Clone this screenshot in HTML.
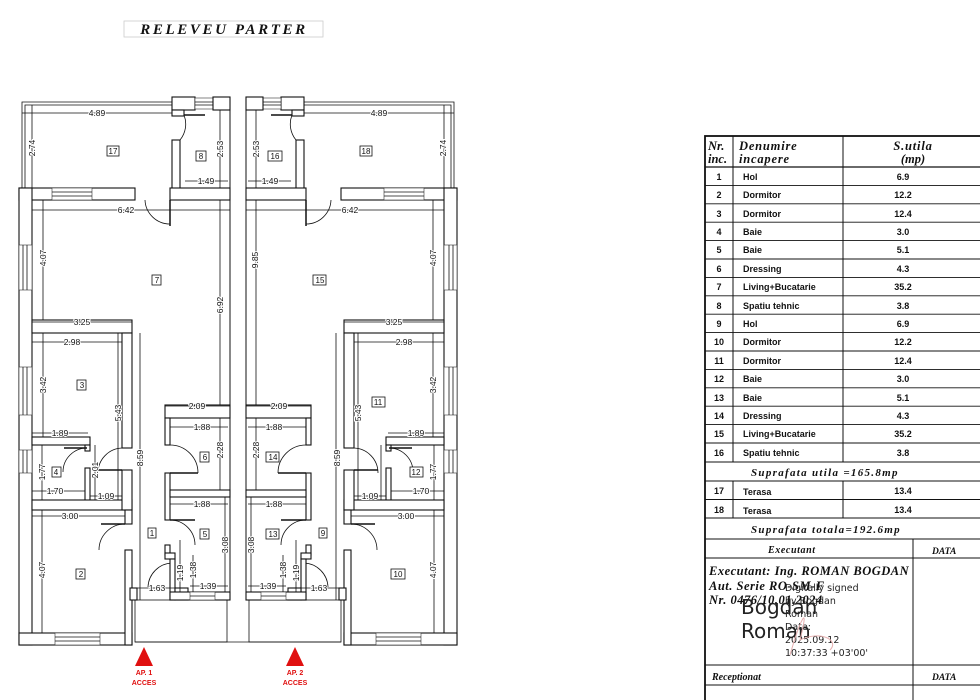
<!DOCTYPE html>
<html><head><meta charset="utf-8"><style>
html,body{margin:0;padding:0;background:#fff;width:980px;height:700px;overflow:hidden}
svg{display:block}
.d{font-family:"Liberation Sans",sans-serif;font-size:8.5px;fill:#111;text-anchor:middle;paint-order:stroke;stroke:#fff;stroke-width:2px}
.t{font-family:"Liberation Sans",sans-serif;font-size:9px;font-weight:bold;fill:#111}
.s{font-family:"Liberation Serif",serif;font-style:italic;font-weight:bold;fill:#111}
.w{fill:#fff;stroke:#111;stroke-width:1.1}
.l{stroke:#111;stroke-width:0.8;fill:none}
.win{fill:#fff;stroke:#333;stroke-width:0.6}
.b{fill:#fff;stroke:#111;stroke-width:0.8}
</style></head><body>
<svg width="980" height="700" viewBox="0 0 980 700" xmlns="http://www.w3.org/2000/svg">
<rect x="124" y="21" width="199" height="16" fill="#fff" stroke="#ccc" stroke-width="0.8"/>
<text x="224" y="34" class="s" font-size="15" text-anchor="middle" letter-spacing="2.6" font-weight="normal">RELEVEU  PARTER</text>

<defs>
<g id="half">
 <path class="l" d="M22,190 V102 H172 M25,190 V105 H172" />
 <rect class="w" x="172" y="97" width="23" height="13"/>
 <rect class="win" x="195" y="98" width="18" height="11"/><line class="l" x1="195" y1="102" x2="213" y2="102"/><line class="l" x1="195" y1="105" x2="213" y2="105"/>
 <rect class="w" x="213" y="97" width="17" height="13"/>
 <rect class="w" x="172" y="110" width="12" height="6"/>
 <rect class="w" x="172" y="140" width="8" height="50"/>
 <path class="l" d="M184,115 A25,25 0 0 1 180,140"/><line x1="184" y1="115" x2="205" y2="115" stroke="#111" stroke-width="1.5"/>
 <rect class="w" x="19" y="188" width="116" height="12"/>
 <rect class="win" x="52" y="188" width="40" height="12"/><line class="l" x1="52" y1="192" x2="92" y2="192"/><line class="l" x1="52" y1="196" x2="92" y2="196"/>
 <rect class="w" x="170" y="188" width="60" height="12"/>
 <path class="l" d="M145,200 A25,25 0 0 0 170,224"/><line x1="170" y1="200" x2="170" y2="226" stroke="#111" stroke-width="1.5"/>
 <rect class="w" x="19" y="188" width="13" height="457"/>
 <rect class="win" x="19" y="245" width="13" height="45"/><line class="l" x1="23" y1="245" x2="23" y2="290"/><line class="l" x1="27" y1="245" x2="27" y2="290"/>
 <rect class="win" x="19" y="367" width="13" height="48"/><line class="l" x1="23" y1="367" x2="23" y2="415"/><line class="l" x1="27" y1="367" x2="27" y2="415"/>
 <rect class="win" x="19" y="450" width="13" height="23"/><line class="l" x1="23" y1="450" x2="23" y2="473"/><line class="l" x1="27" y1="450" x2="27" y2="473"/>
 <rect class="w" x="19" y="633" width="113" height="12"/>
 <rect class="win" x="55" y="633" width="45" height="12"/><line class="l" x1="55" y1="637" x2="100" y2="637"/><line class="l" x1="55" y1="641" x2="100" y2="641"/>
 <rect class="w" x="32" y="320" width="100" height="13"/>
 <rect class="w" x="122" y="333" width="10" height="115"/>
 <rect class="w" x="32" y="437" width="58" height="8"/>
 <rect class="w" x="85" y="445" width="5" height="6"/>
 <rect class="w" x="85" y="468" width="5" height="34"/>
 <rect class="w" x="32" y="500" width="100" height="10"/>
 <rect class="w" x="122" y="470" width="10" height="40"/>
 <rect class="w" x="125" y="510" width="7" height="14"/>
 <rect class="w" x="125" y="550" width="7" height="95"/>
 <path class="l" d="M87,448 A24,24 0 0 0 63,472 M122,448 A25,25 0 0 0 98,473 M125,524 A26,26 0 0 0 99,550 M172,563 A25,25 0 0 0 148,587"/>
 <line x1="64" y1="448" x2="87" y2="448" stroke="#111" stroke-width="1.5"/>
 <line x1="98" y1="470" x2="122" y2="470" stroke="#111" stroke-width="1.5"/>
 <line x1="101" y1="524" x2="125" y2="524" stroke="#111" stroke-width="1.5"/>
 <rect class="w" x="130" y="588" width="7" height="12"/>
 <rect class="l" x="135" y="600" width="92" height="42"/>
 <rect class="w" x="165" y="405" width="65" height="13"/>
 <rect class="w" x="165" y="418" width="5" height="27"/>
 <rect class="w" x="165" y="473" width="5" height="47"/>
 <rect class="w" x="165" y="545" width="5" height="10"/>
 <rect class="w" x="170" y="490" width="60" height="7"/>
 <rect class="w" x="165" y="553" width="10" height="6"/>
 <rect class="w" x="170" y="559" width="5" height="41"/>
 <rect class="w" x="175" y="588" width="13" height="12"/>
 <rect class="w" x="170" y="592" width="60" height="8"/>
 <rect class="win" x="190" y="592" width="25" height="8"/><line class="l" x1="190" y1="596" x2="215" y2="596"/>
 <path class="l" d="M170,445 A28,28 0 0 1 198,473 M170,520 A25,25 0 0 1 195,545"/>
 <line x1="170" y1="473" x2="198" y2="473" stroke="#111" stroke-width="1.5"/>
 <line x1="170" y1="520" x2="195" y2="520" stroke="#111" stroke-width="1.5"/>
 <path class="l" d="M22,113 H172 M32,105 V188 M220,110 V188 M185,181 H228 M32,210 H230 M43,200 V320 M220,200 V405 M32,322 H132 M32,342 H122 M43,333 V437 M118,333 V500 M140,333 V600 M165,406 H230 M170,427 H228 M220,418 V490 M32,433 H88 M95,445 V500 M42,445 V500 M32,491 H85 M90,496 H122 M32,516 H125 M42,510 V633 M170,504 H228 M225,497 V592 M193,555 V592 M180,540 V592 M137,588 H175 M190,586 H228"/>
</g>
</defs>
<rect x="230" y="97" width="16" height="503" fill="#fff"/>
<line x1="230" y1="97" x2="230" y2="600" stroke="#111" stroke-width="1"/>
<line x1="246" y1="97" x2="246" y2="600" stroke="#111" stroke-width="1"/>
<use href="#half"/>
<use href="#half" transform="translate(476,0) scale(-1,1)"/>
<line x1="135" y1="642" x2="341" y2="642" stroke="#111" stroke-width="0.8"/>

<g class="d">
<text x="97" y="116">4.89</text><text x="206" y="184">1.49</text><text x="126" y="213">6.42</text>
<text x="82" y="325">3.25</text><text x="72" y="345">2.98</text><text x="197" y="409">2.09</text>
<text x="202" y="430">1.88</text><text x="60" y="436">1.89</text><text x="55" y="494">1.70</text>
<text x="106" y="499">1.09</text><text x="70" y="519">3.00</text><text x="202" y="507">1.88</text>
<text x="157" y="591">1.63</text><text x="208" y="589">1.39</text>
<text transform="translate(35,148) rotate(-90)">2.74</text>
<text transform="translate(223,149) rotate(-90)">2.53</text>
<text transform="translate(46,258) rotate(-90)">4.07</text>
<text transform="translate(223,305) rotate(-90)">6.92</text>
<text transform="translate(46,385) rotate(-90)">3.42</text>
<text transform="translate(121,413) rotate(-90)">5.43</text>
<text transform="translate(143,458) rotate(-90)">8.59</text>
<text transform="translate(223,450) rotate(-90)">2.28</text>
<text transform="translate(98,470) rotate(-90)">2.01</text>
<text transform="translate(45,472) rotate(-90)">1.77</text>
<text transform="translate(45,570) rotate(-90)">4.07</text>
<text transform="translate(228,545) rotate(-90)">3.08</text>
<text transform="translate(196,570) rotate(-90)">1.38</text>
<text transform="translate(183,573) rotate(-90)">1.19</text>
<text x="379" y="116">4.89</text><text x="270" y="184">1.49</text><text x="350" y="213">6.42</text>
<text x="394" y="325">3.25</text><text x="404" y="345">2.98</text><text x="279" y="409">2.09</text>
<text x="274" y="430">1.88</text><text x="416" y="436">1.89</text><text x="421" y="494">1.70</text>
<text x="370" y="499">1.09</text><text x="406" y="519">3.00</text><text x="274" y="507">1.88</text>
<text x="319" y="591">1.63</text><text x="268" y="589">1.39</text>
<text transform="translate(446,148) rotate(-90)">2.74</text>
<text transform="translate(259,149) rotate(-90)">2.53</text>
<text transform="translate(436,258) rotate(-90)">4.07</text>
<text transform="translate(258,260) rotate(-90)">9.85</text>
<text transform="translate(436,385) rotate(-90)">3.42</text>
<text transform="translate(361,413) rotate(-90)">5.43</text>
<text transform="translate(340,458) rotate(-90)">8.59</text>
<text transform="translate(259,450) rotate(-90)">2.28</text>
<text transform="translate(436,472) rotate(-90)">1.77</text>
<text transform="translate(436,570) rotate(-90)">4.07</text>
<text transform="translate(254,545) rotate(-90)">3.08</text>
<text transform="translate(286,570) rotate(-90)">1.38</text>
<text transform="translate(299,573) rotate(-90)">1.19</text>
</g>
<g font-family="Liberation Sans,sans-serif" font-size="8" fill="#111" text-anchor="middle">
<rect x="107" y="146" width="12" height="10" class="b"/><text x="113" y="154">17</text>
<rect x="196" y="151" width="10" height="10" class="b"/><text x="201" y="159">8</text>
<rect x="268" y="151" width="14" height="10" class="b"/><text x="275" y="159">16</text>
<rect x="360" y="146" width="12" height="10" class="b"/><text x="366" y="154">18</text>
<rect x="152" y="275" width="9" height="10" class="b"/><text x="157" y="283">7</text>
<rect x="313" y="275" width="13" height="10" class="b"/><text x="320" y="283">15</text>
<rect x="77" y="380" width="9" height="10" class="b"/><text x="82" y="388">3</text>
<rect x="372" y="397" width="13" height="10" class="b"/><text x="378" y="405">11</text>
<rect x="200" y="452" width="9" height="10" class="b"/><text x="205" y="460">6</text>
<rect x="266" y="452" width="13" height="10" class="b"/><text x="273" y="460">14</text>
<rect x="52" y="467" width="9" height="10" class="b"/><text x="56" y="475">4</text>
<rect x="410" y="467" width="13" height="10" class="b"/><text x="416" y="475">12</text>
<rect x="148" y="528" width="8" height="10" class="b"/><text x="152" y="536">1</text>
<rect x="319" y="528" width="8" height="10" class="b"/><text x="323" y="536">9</text>
<rect x="200" y="529" width="9" height="10" class="b"/><text x="205" y="537">5</text>
<rect x="266" y="529" width="13" height="10" class="b"/><text x="273" y="537">13</text>
<rect x="76" y="569" width="9" height="10" class="b"/><text x="81" y="577">2</text>
<rect x="391" y="569" width="14" height="10" class="b"/><text x="398" y="577">10</text>
</g>
<polygon points="144,647 135,666 153,666" fill="#e01010"/>
<polygon points="295,647 286,666 304,666" fill="#e01010"/>
<g font-family="Liberation Sans,sans-serif" font-size="7" font-weight="bold" fill="#e01010" text-anchor="middle">
<text x="144" y="675">AP. 1</text><text x="144" y="685">ACCES</text>
<text x="295" y="675">AP. 2</text><text x="295" y="685">ACCES</text>
</g>

<g stroke="#111" fill="none">
<rect x="705" y="136" width="290" height="580" stroke-width="1.8"/>
<line x1="733" y1="136" x2="733" y2="462" stroke-width="1"/>
<line x1="843" y1="136" x2="843" y2="462" stroke-width="1"/>
<line x1="733" y1="481" x2="733" y2="518" stroke-width="1"/>
<line x1="843" y1="481" x2="843" y2="518" stroke-width="1"/>
<line x1="913" y1="539" x2="913" y2="700" stroke-width="1"/>
<line x1="705" y1="167" x2="990" y2="167" stroke-width="1.3"/>
<path stroke-width="0.9" d="M705,185.4H990M705,203.8H990M705,222.2H990M705,240.6H990M705,259H990M705,277.4H990M705,295.8H990M705,314.2H990M705,332.6H990M705,351H990M705,369.4H990M705,387.8H990M705,406.2H990M705,424.6H990M705,443H990M705,462H990M705,481H990M705,499.5H990M705,518H990M705,539H990M705,558H990M705,665H990M705,685H990"/>
</g>
<g class="s" font-size="12.5">
<text x="708" y="150">Nr.</text><text x="708" y="163">inc.</text>
<text x="739" y="150" letter-spacing="0.8">Denumire</text><text x="739" y="163" letter-spacing="0.8">incapere</text>
<text x="913" y="150" text-anchor="middle" letter-spacing="0.8">S.utila</text><text x="913" y="163" text-anchor="middle">(mp)</text>
</g>
<g class="t">
<g text-anchor="middle">
<text x="719" y="180">1</text><text x="719" y="198">2</text><text x="719" y="217">3</text><text x="719" y="235">4</text>
<text x="719" y="253">5</text><text x="719" y="272">6</text><text x="719" y="290">7</text><text x="719" y="309">8</text>
<text x="719" y="327">9</text><text x="719" y="345">10</text><text x="719" y="364">11</text><text x="719" y="382">12</text>
<text x="719" y="401">13</text><text x="719" y="419">14</text><text x="719" y="437">15</text><text x="719" y="456">16</text>
<text x="719" y="494">17</text><text x="719" y="513">18</text>
<text x="903" y="180">6.9</text><text x="903" y="198">12.2</text><text x="903" y="217">12.4</text><text x="903" y="235">3.0</text>
<text x="903" y="253">5.1</text><text x="903" y="272">4.3</text><text x="903" y="290">35.2</text><text x="903" y="309">3.8</text>
<text x="903" y="327">6.9</text><text x="903" y="345">12.2</text><text x="903" y="364">12.4</text><text x="903" y="382">3.0</text>
<text x="903" y="401">5.1</text><text x="903" y="419">4.3</text><text x="903" y="437">35.2</text><text x="903" y="456">3.8</text>
<text x="903" y="494">13.4</text><text x="903" y="513">13.4</text>
</g>
<text x="743" y="180">Hol</text><text x="743" y="198">Dormitor</text><text x="743" y="217">Dormitor</text><text x="743" y="235">Baie</text>
<text x="743" y="253">Baie</text><text x="743" y="272">Dressing</text><text x="743" y="290">Living+Bucatarie</text><text x="743" y="309">Spatiu  tehnic</text>
<text x="743" y="327">Hol</text><text x="743" y="345">Dormitor</text><text x="743" y="364">Dormitor</text><text x="743" y="382">Baie</text>
<text x="743" y="401">Baie</text><text x="743" y="419">Dressing</text><text x="743" y="437">Living+Bucatarie</text><text x="743" y="456">Spatiu  tehnic</text>
<text x="743" y="495">Terasa</text><text x="743" y="514">Terasa</text>
</g>
<g class="s" font-size="11">
<text x="751" y="476" letter-spacing="1.3">Suprafata  utila  =165.8mp</text>
<text x="751" y="533" letter-spacing="1.3">Suprafata  totala=192.6mp</text>
<text x="768" y="553" font-size="10" letter-spacing="0.6">Executant</text>
<text x="932" y="554" font-size="9.5">DATA</text>
<text x="709" y="575" font-size="12.5" letter-spacing="0.5">Executant:  Ing.  ROMAN  BOGDAN</text>
<text x="709" y="590" font-size="12.5" letter-spacing="0.5">Aut.  Serie  RO-SM-F</text>
<text x="709" y="604" font-size="12.5" letter-spacing="0.5">Nr.  0476/10.01.2024</text>
<text x="712" y="680" font-size="10">Receptionat</text>
<text x="932" y="680" font-size="9.5">DATA</text>
</g>
<g font-family="DejaVu Sans,sans-serif" fill="#222">
<text x="741" y="614" font-size="20">Bogdan</text>
<text x="741" y="638" font-size="20">Roman</text>
<g font-size="9.5"><text x="785" y="591">Digitally signed</text><text x="785" y="604">by Bogdan</text><text x="785" y="617">Roman</text><text x="785" y="630">Date:</text><text x="785" y="643">2025.09.12</text><text x="785" y="656">10:37:33 +03'00'</text></g>
</g>
<path d="M790,655 C800,620 810,600 800,640 C820,630 840,640 830,650" stroke="#e6b0b0" fill="none" stroke-width="1"/>
</svg>
</body></html>
